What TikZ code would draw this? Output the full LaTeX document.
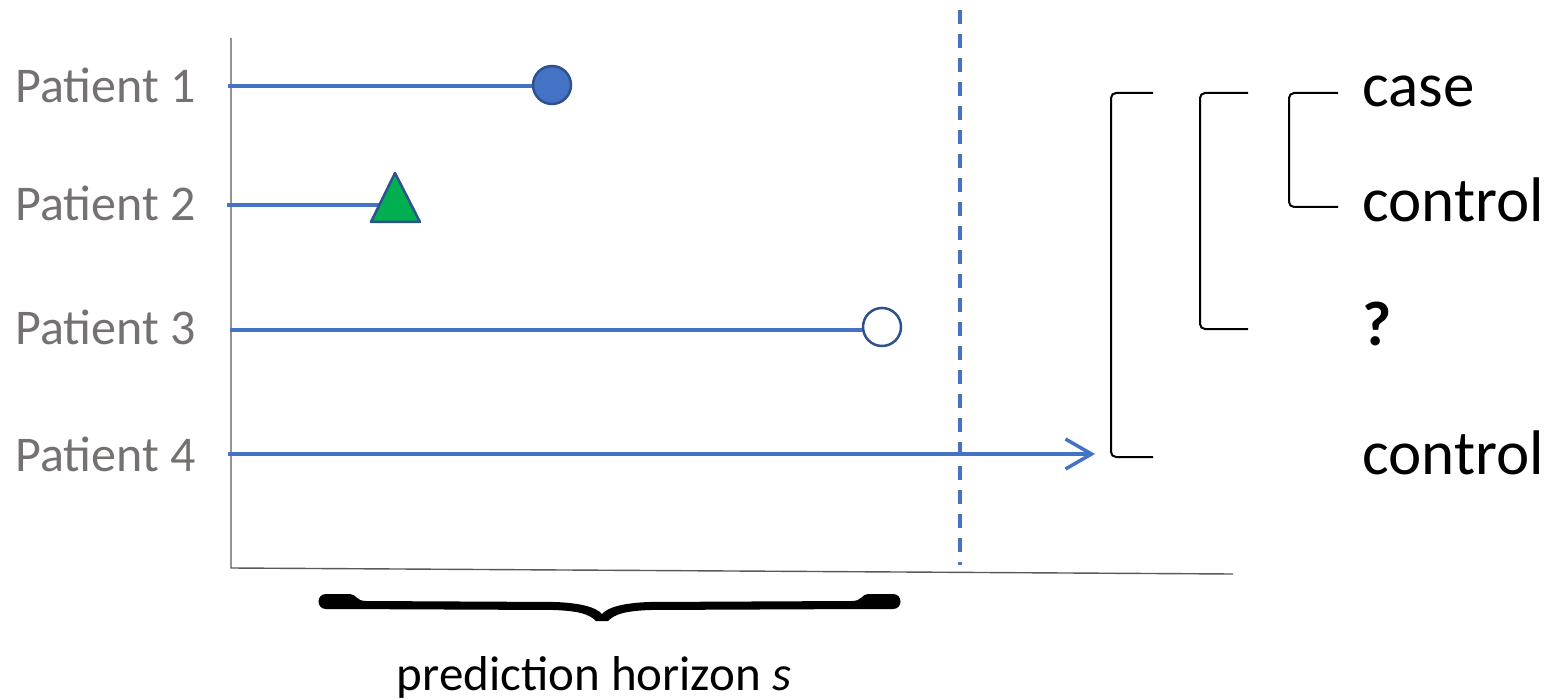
\documentclass[tikz,border=0pt]{standalone}
\usepackage{fontspec}
\setmainfont{Carlito}
\usetikzlibrary{arrows.meta}
\definecolor{pblue}{HTML}{4472C4}
\definecolor{pedge}{HTML}{2F528F}
\definecolor{pgreen}{HTML}{00B050}
\definecolor{ptext}{RGB}{118,113,113}

\begin{document}
\begin{tikzpicture}[x=1pt,y=-1pt,
  plabel/.style={anchor=base east, inner sep=0, text=ptext, font=\fontsize{50}{58}\selectfont},
  glabel/.style={anchor=base west, inner sep=0, font=\fontsize{63}{70}\selectfont},
  pline/.style={pblue, line width=3.5},
  axis/.style={black!65, line width=1.4},
  brk/.style={line width=2, rounded corners=5},
  dot/.style={circle, inner sep=0, minimum size=38, line width=2.5, draw=pedge}
]
\useasboundingbox (0,0) rectangle (1554,700);

% axes
\coordinate (ytop) at (231,38);
\coordinate (orig) at (231,568);
\coordinate (xend) at (1233,574);
\draw[axis] (ytop) -- (orig) -- (xend);

% end of the prediction window
\coordinate (dtop) at (960,10);
\coordinate (dbot) at (960,565);
\draw[pblue, line width=3.2, dash pattern=on 14pt off 10pt] (dtop) -- (dbot);

% patient labels
\node[plabel] (n1) at (196,103) {Patient 1};
\node[plabel] (n2) at (196,221) {Patient 2};
\node[plabel] (n3) at (196,344) {Patient 3};
\node[plabel] (n4) at (196,471) {Patient 4};

% follow-up lines
\coordinate (s1) at (228,86);
\coordinate (s2) at (227,205);
\coordinate (s3) at (230,330);
\coordinate (s4) at (228,454);

\node[dot, fill=pblue] (e1) at (552,85) {};
\node[dot, fill=white] (e3) at (882,327) {};
\coordinate (e2) at (381,205);
\coordinate (e4) at (1095,454);

\draw[pline] (s1) -- (s1 -| e1.west);
\draw[pline] (s2) -- (e2);
\draw[pline] (s3) -- (s3 -| e3.west);
\draw[pline, -{Straight Barb[length=26pt,width=30pt]}] (s4) -- (e4);

% event marker of patient 2
\filldraw[fill=pgreen, draw=pedge, line width=2.5, line join=round]
  (395,173) -- (420,222) -- (371,222) -- cycle;

% outcome labels
\node[glabel] (lcase) at (1362,107) {case};
\node[glabel] (lc1) at (1362,222) {control};
\node[glabel, font=\fontsize{63}{70}\selectfont\bfseries] (lq) at (1362,345) {?};
\node[glabel] (lc2) at (1362,474) {control};

% grouping brackets
\draw[brk] (1153,93) -- (1111,93) -- (1111,457) -- (1153,457);
\draw[brk] (1248,93) -- (1200,93) -- (1200,329) -- (1248,329);
\draw[brk] (1338,93) -- (1289,93) -- (1289,207) -- (1338,207);

% brace under the time axis
\fill (326,594) -- (350,594) .. controls (356,594) and (356,601) .. (366,601)
  -- (555,602) .. controls (580,603) and (596,607) .. (602,614)
  .. controls (608,607) and (624,603) .. (649,602)
  -- (852,601) .. controls (862,601) and (862,594) .. (868,594)
  -- (893,594) .. controls (903,594) and (903,609) .. (893,609)
  -- (868,609) -- (650,610) .. controls (625,611) and (615,614) .. (608,621)
  -- (596,621) .. controls (589,614) and (579,611) .. (554,610)
  -- (336,609) -- (326,609) .. controls (316,609) and (316,594) .. (326,594) -- cycle;
\node[anchor=base, inner sep=0, font=\fontsize{49}{56}\selectfont] (hz) at (594,690)
  {prediction horizon \textit{s}};
\end{tikzpicture}
\end{document}
